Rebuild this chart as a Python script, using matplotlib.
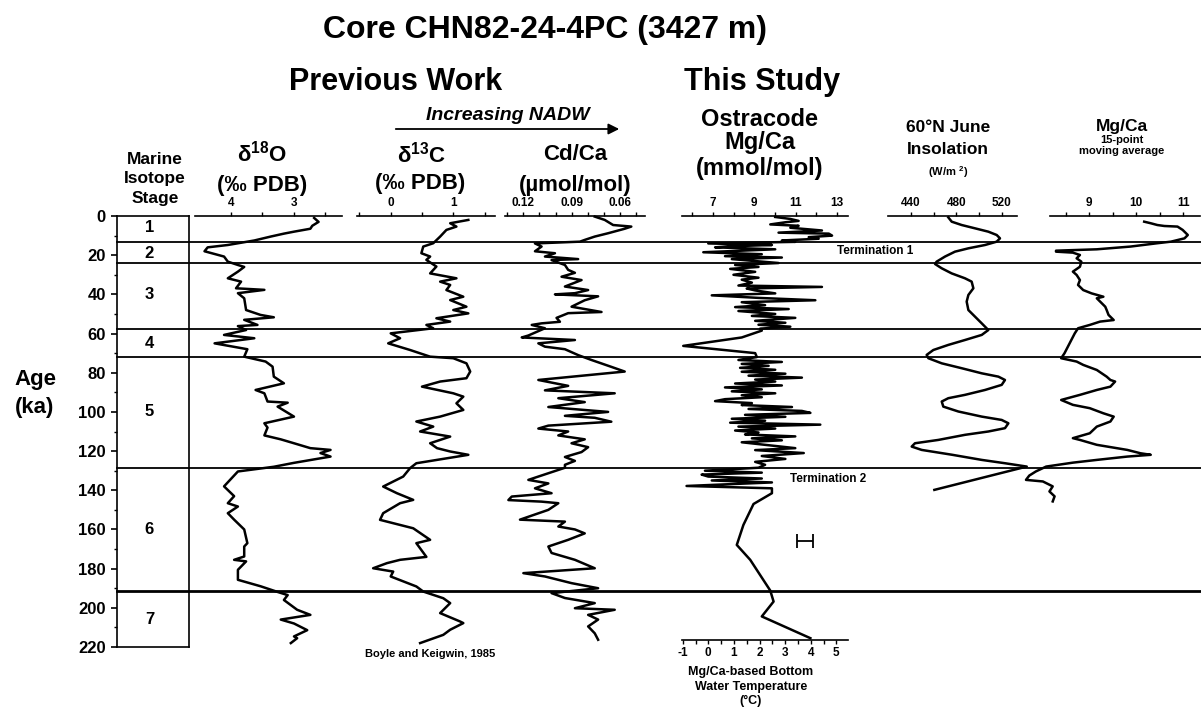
import matplotlib
matplotlib.use("Agg")
import matplotlib.pyplot as plt

plt.rcParams['font.family'] = ['Liberation Sans', 'DejaVu Sans']
plt.rcParams['font.weight'] = 'bold'
plt.rcParams['mathtext.fontset'] = 'custom'
plt.rcParams['mathtext.rm'] = 'Liberation Sans:bold'
plt.rcParams['axes.linewidth'] = 1.2

# ---- data (ages in ka) ----
stage_bounds = [13.1, 24.1, 57.7, 71.8, 128.4, 191.2]
stage_names = ['1', '2', '3', '4', '5', '6', '7']
stage_mid = [6, 19, 40, 65, 100, 160, 206]

d18o_age = [1, 3, 5, 6.5, 8, 9, 10.5, 12.5, 14.8, 16,
            18, 20.7, 23.3, 25, 26, 28.4, 31.8, 33.5, 36.9, 37.7,
            39.4, 42, 48, 50.5, 51.7, 53, 55.6, 56.2, 58.2, 60.7,
            62.4, 65, 68, 71.8, 74.3, 76.9, 82, 85.4, 88.8, 90.5,
            94.7, 95.3, 97.3, 102.4, 105.8, 108, 112, 114, 116, 118.5,
            119.4, 121, 122.8, 126, 128, 130.4, 138, 143, 146.6, 148.3,
            151.7, 155, 160, 167, 168.7, 173.8, 175.5, 176.3, 180.6, 185.7,
            189, 191.9, 193.5, 196, 201, 203.6, 206, 208, 211.4, 214.6,
            215.5, 218]
d18o_val = [2.68, 2.61, 2.71, 2.74, 3.0, 3.16, 3.37, 3.63, 4.05, 4.37,
            4.42, 4.11, 4.05, 3.89, 3.79, 3.89, 4.05, 3.84, 3.92, 3.47,
            3.89, 3.79, 3.76, 3.53, 3.32, 3.79, 3.58, 3.89, 3.76, 4.11,
            3.63, 4.26, 3.74, 3.79, 3.45, 3.34, 3.32, 3.16, 3.61, 3.47,
            3.42, 3.1, 3.26, 3.0, 3.47, 3.42, 3.47, 3.21, 3.0, 2.74,
            2.42, 2.58, 2.42, 3.0, 3.32, 3.89, 4.11, 3.95, 4.05, 3.89,
            4.05, 3.95, 3.79, 3.74, 3.79, 3.79, 3.95, 3.76, 3.89, 3.89,
            3.53, 3.26, 3.1, 3.16, 2.95, 2.74, 3.21, 3.0, 2.79, 3.0,
            2.95, 3.05]

d13c_age = [2.0, 3.7, 5.4, 7.1, 10.5, 13.9, 15.6, 19, 20.7, 22.4,
            25.8, 29.3, 31.8, 33.5, 35.2, 37.8, 41.2, 42.9, 46.3, 48,
            49.7, 52.2, 53.9, 55.6, 57.3, 59.9, 62.4, 65, 68.4, 71.8,
            72.6, 75.2, 79.4, 82.8, 84.5, 87.1, 90.5, 92.2, 95.6, 99,
            102.4, 104.9, 107.5, 110, 112.6, 116, 118.5, 120.2, 121.9, 126.2,
            128.7, 133, 138.1, 141.5, 144.9, 146.6, 151.7, 155.1, 159.4, 165.3,
            167, 174, 175.5, 177.2, 179.8, 181.5, 184, 189.1, 191.7, 195.1,
            197.6, 202.7, 207, 207.8, 211.2, 213.8, 218]
d13c_val = [1.24, 0.95, 1.05, 0.89, 0.79, 0.68, 0.52, 0.49, 0.63, 0.57,
            0.73, 0.63, 1.05, 0.79, 0.95, 0.89, 1.16, 0.95, 1.21, 1.0,
            1.24, 0.73, 0.95, 0.57, 0.68, 0.0, 0.15, -0.04, 0.31, 0.63,
            1.0, 1.21, 1.27, 1.21, 0.79, 0.5, 1.0, 1.16, 1.05, 1.16,
            0.79, 0.41, 0.68, 0.47, 0.95, 0.63, 0.74, 0.95, 1.24, 0.41,
            0.31, 0.2, -0.12, 0.1, 0.36, 0.15, -0.12, -0.17, 0.36, 0.63,
            0.41, 0.57, 0.15, -0.06, -0.28, 0.04, 0.0, 0.41, 0.52, 0.84,
            0.95, 0.79, 1.11, 1.16, 0.95, 0.84, 0.47]

cdca_age = [0.3, 2, 4.6, 5.4, 6.5, 8.8, 10.5, 12.2, 13.1, 14,
            15.6, 18, 19, 20.7, 22, 22.5, 25, 27.5, 29, 31,
            32.7, 36, 37.8, 39.4, 40, 41, 43, 46.3, 49, 49.6,
            52, 54, 54.8, 55.6, 57.3, 61, 62, 63.3, 65, 66.7,
            68, 71, 73.5, 77, 79.4, 83.7, 86.7, 89, 90.5, 93,
            95, 97.5, 100, 102, 103, 105, 107, 108.5, 110, 112,
            114, 116, 118, 120.5, 123, 125, 127, 128.5, 133, 134.7,
            136.5, 139, 141.5, 143.2, 145, 145.8, 146.6, 150, 155, 156,
            158.5, 160, 162, 165.3, 168.7, 172, 175.5, 179.8, 182.3, 184,
            187.4, 190, 192.5, 195, 197.6, 200.2, 201, 203.6, 206, 209.5,
            213, 216.3]
cdca_val = [0.0757, 0.0695, 0.0643, 0.0530, 0.0571, 0.0674, 0.0757, 0.0819, 0.0849, 0.1128,
            0.1087, 0.1128, 0.1004, 0.1066, 0.0860, 0.1025, 0.0942, 0.0922, 0.0880, 0.0963,
            0.0839, 0.0942, 0.0798, 0.0880, 0.1004, 0.0736, 0.0819, 0.0901, 0.0715, 0.0922,
            0.0994, 0.0973, 0.1087, 0.1148, 0.1066, 0.1169, 0.1210, 0.0880, 0.1107, 0.1066,
            0.0942, 0.0860, 0.0777, 0.0654, 0.0571, 0.1107, 0.0922, 0.1066, 0.0633, 0.0983,
            0.0819, 0.1045, 0.0674, 0.0942, 0.0757, 0.0654, 0.1045, 0.1107, 0.0922, 0.0983,
            0.0819, 0.0901, 0.0798, 0.0839, 0.0942, 0.0880, 0.0942, 0.0942, 0.1107, 0.1169,
            0.1045, 0.1128, 0.1025, 0.1272, 0.1293, 0.1087, 0.0983, 0.1045, 0.1221, 0.0942,
            0.0983, 0.0880, 0.0819, 0.0922, 0.1045, 0.1025, 0.0880, 0.0757, 0.1200, 0.1066,
            0.0901, 0.0736, 0.1025, 0.0942, 0.0757, 0.0880, 0.0633, 0.0798, 0.0736, 0.0798,
            0.0757, 0.0736]

ostr_age = [0.5, 1.5, 2.5, 3.2, 4.3, 5.0, 6.0, 7.4, 8.5, 9.0,
            10.0, 10.8, 11.6, 12.5, 13.2, 14.0, 14.8, 15.5, 16.0, 17.0,
            18.5, 19.5, 20.5, 21.2, 22.0, 23.0, 24.0, 25.0, 26.0, 27.0,
            28.5, 30.0, 31.5, 32.5, 34.0, 35.5, 36.2, 37.0, 38.0, 39.5,
            40.5, 41.8, 43.0, 44.0, 45.5, 46.5, 47.5, 48.5, 50.0, 51.0,
            52.0, 53.5, 54.5, 55.5, 56.5, 57.5, 58.5, 62.0, 66.3, 70.0,
            72.0, 73.5, 74.5, 75.5, 76.5, 77.5, 78.5, 79.5, 80.5, 81.5,
            82.5, 83.5, 84.5, 85.5, 86.5, 87.5, 88.5, 89.5, 90.5, 91.5,
            92.5, 93.5, 94.5, 95.5, 96.5, 97.5, 98.5, 99.5, 100.5, 101.5,
            102.5, 103.5, 104.5, 105.5, 106.5, 107.5, 108.5, 109.5, 110.5, 111.5,
            112.5, 113.5, 114.5, 115.5, 117.0, 118.5, 119.5, 121.0, 122.5, 124.0,
            125.5, 127.0, 128.5, 130.0, 131.0, 132.0, 133.0, 134.0, 135.0, 136.0,
            137.8, 139.0, 141.5, 147.0, 157.7, 167.9, 175.5, 191.2, 196.8, 204.4,
            215.5]
ostr_val = [10.01, 10.74, 11.14, 10.50, 9.77, 11.14, 10.74, 12.27, 10.17, 12.60,
            12.76, 11.63, 12.11, 10.33, 10.98, 6.77, 9.85, 7.74, 7.10, 10.01,
            6.53, 9.36, 7.58, 10.33, 7.91, 9.04, 10.17, 8.07, 9.20, 7.83,
            9.04, 7.99, 9.20, 8.39, 8.88, 8.23, 12.27, 8.63, 9.04, 10.01,
            6.94, 9.20, 11.95, 8.39, 9.52, 8.07, 10.66, 8.23, 10.01, 8.88,
            10.98, 9.04, 10.50, 9.20, 10.74, 9.28, 9.36, 8.39, 5.56, 9.04,
            9.12, 8.23, 10.33, 8.39, 9.69, 8.31, 10.01, 8.39, 10.50, 8.72,
            11.30, 9.04, 10.01, 8.07, 10.33, 7.58, 9.36, 7.91, 10.01, 8.39,
            9.36, 7.58, 7.10, 8.88, 8.39, 10.82, 8.72, 11.30, 11.71, 8.55,
            10.50, 7.91, 9.52, 7.83, 12.19, 8.23, 10.01, 8.07, 9.20, 8.55,
            10.98, 8.88, 10.33, 8.39, 9.69, 10.98, 9.04, 11.39, 9.36, 10.50,
            9.04, 9.52, 9.20, 6.61, 9.36, 6.45, 6.77, 9.36, 6.94, 9.85,
            5.72, 9.85, 9.85, 8.96, 8.47, 8.15, 8.80, 9.77, 9.93, 9.36,
            11.71]

ins_age = [0.7, 2.9, 4.6, 6.3, 8.0, 9.7, 11.4, 13.1, 14.8, 16.5,
           18.2, 20.7, 23.3, 24.5, 26.7, 29.3, 31.8, 33.5, 36.9, 40.3,
           43.7, 48.0, 51.4, 54.8, 58.2, 60.7, 63.3, 65.8, 68.4, 70.9,
           72.6, 75.2, 77.7, 80.3, 82.0, 83.7, 86.2, 88.8, 91.3, 93.0,
           94.7, 97.3, 99.8, 102.4, 104.1, 105.8, 108.3, 110.0, 111.7, 114.3,
           116.0, 117.7, 119.4, 121.9, 124.5, 126.2, 127.9, 139.8]
ins_val = [472.9, 475.9, 484.7, 496.5, 508.2, 515.6, 518.5, 515.6, 505.3, 490.6,
           478.8, 470.0, 462.6, 461.2, 467.1, 475.9, 487.6, 493.5, 495.0, 490.6,
           489.1, 490.6, 496.5, 502.4, 508.2, 502.4, 487.6, 472.9, 459.7, 453.8,
           455.3, 467.1, 484.7, 502.4, 517.1, 522.9, 520.0, 505.3, 487.6, 472.9,
           467.1, 468.5, 481.8, 502.4, 520.0, 525.9, 522.9, 508.2, 487.6, 464.1,
           443.5, 440.6, 449.4, 476.5, 502.4, 522.9, 542.1, 460.6]

mgavg_age = [2.9, 3.7, 4.6, 5.1, 5.4, 7.1, 9.7, 11.4, 13.1, 13.9,
             15.6, 17.0, 17.7, 18.2, 18.7, 19.9, 21.6, 23.3, 25.9, 28.4,
             30.1, 32.7, 35.2, 37.8, 39.5, 41.2, 42.0, 46.3, 48.0, 50.5,
             53.1, 53.9, 55.6, 57.3, 59.9, 65.0, 70.1, 72.6, 74.3, 76.0,
             78.6, 82.0, 83.7, 84.5, 87.1, 88.8, 91.3, 93.9, 96.4, 98.1,
             100.7, 102.4, 104.9, 107.5, 110.9, 113.4, 114.3, 116.8, 119.4, 121.1,
             121.9, 122.8, 124.5, 125.9, 127.9, 130.4, 132.5, 134.7, 135.5, 138.0,
             140.6, 143.1, 145.7]
mgavg_val = [10.17, 10.31, 10.45, 10.60, 10.88, 10.99, 11.10, 11.03, 10.74, 10.45,
             9.88, 9.16, 8.29, 8.29, 8.65, 8.80, 8.73, 8.83, 8.80, 8.65,
             8.73, 8.80, 8.76, 8.87, 9.05, 9.30, 9.16, 9.34, 9.37, 9.41,
             9.52, 9.23, 9.01, 8.76, 8.69, 8.58, 8.47, 8.40, 8.73, 8.87,
             9.16, 9.37, 9.45, 9.55, 9.45, 9.16, 8.80, 8.40, 8.65, 9.01,
             9.30, 9.52, 9.45, 9.16, 9.01, 8.65, 8.80, 9.16, 9.81, 10.09,
             10.31, 9.81, 9.16, 8.65, 8.08, 7.86, 7.72, 7.65, 8.01, 8.22,
             8.15, 8.26, 8.22]

temp_ticks = [-1, 0, 1, 2, 3, 4, 5]

# ---- layout (pixels) ----
W, H = 1201, 707
TOP, BOT = 216, 647

fig = plt.figure(figsize=(W / 100, H / 100), dpi=100)


def strip(x0, x1):
    ax = fig.add_axes([x0 / W, 1 - BOT / H, (x1 - x0) / W, (BOT - TOP) / H])
    ax.set_ylim(220, 0)
    ax.patch.set_alpha(0)
    return ax


def label(x, y, s, size, ha='center', **kw):
    fig.text(x / W, 1 - y / H, s, fontsize=size, ha=ha, va='center', **kw)


def curve_panel(x0, x1, lim, major, labels, minor, ages, vals):
    ax = strip(x0, x1)
    ax.set_xlim(*lim)
    for s in ['left', 'right', 'bottom']:
        ax.spines[s].set_visible(False)
    ax.xaxis.tick_top()
    ax.set_xticks(major, labels=labels)
    ax.set_xticks(minor, minor=True)
    ax.set_yticks([])
    ax.tick_params(axis='x', which='both', direction='out', length=3,
                   width=1, pad=2, labelsize=8.5)
    ax.plot(vals, ages, color='black', lw=1.8, clip_on=False)
    return ax


# stage boundary lines across the whole figure
base = strip(117, 1201)
base.axis('off')
for b in stage_bounds:
    base.axhline(b, color='black', lw=2.0 if b > 190 else 1.3, clip_on=False)

# marine isotope stage box with age axis
box = strip(117, 189)
box.set_xlim(0, 1)
box.set_xticks([])
box.set_yticks(range(0, 221, 20))
box.set_yticks(range(10, 220, 20), minor=True)
box.tick_params(axis='y', which='major', labelsize=12, length=4, width=1.2, pad=4)
box.tick_params(axis='y', which='minor', length=2, width=1)
for name, mid in zip(stage_names, stage_mid):
    box.text(0.45, mid, name, ha='center', va='center', fontsize=12)

curve_panel(195, 342, (4.571, 2.238), [4, 3], ['4', '3'], [3.5, 2.5],
            d18o_age, d18o_val)
curve_panel(357, 495, (-0.538, 1.666), [0, 1], ['0', '1'], [-0.5, 0.5, 1.5],
            d13c_age, d13c_val)
curve_panel(505, 645, (0.1314, 0.0445), [0.12, 0.09, 0.06], ['0.12', '0.09', '0.06'],
            [0.13, 0.11, 0.10, 0.08, 0.07, 0.05], cdca_age, cdca_val)
ost = curve_panel(682, 848, (5.5, 13.53), [7, 9, 11, 13], ['7', '9', '11', '13'],
                  [6, 8, 10, 12], ostr_age, ostr_val)
curve_panel(888, 1017, (419.7, 533.5), [440, 480, 520], ['440', '480', '520'],
            [460, 500], ins_age, ins_val)
curve_panel(1050, 1200, (8.162, 11.36), [9, 10, 11], ['9', '10', '11'],
            [8.5, 9.5, 10.5], mgavg_age, mgavg_val)

# error bar on the ostracode record
ost.errorbar([11.45], [166], xerr=[0.4], color='black', lw=1.3, capsize=5,
             capthick=1.3, clip_on=False)


# Mg/Ca-based bottom water temperature scale
def mg2t(m):
    return (20.67 * (m - 7) + 4.7) / 25.6


def t2mg(t):
    return 7 + (25.6 * t - 4.7) / 20.67


sec = ost.secondary_xaxis(0.016, functions=(mg2t, t2mg))
sec.set_xticks(temp_ticks, labels=[str(t) for t in temp_ticks])
sec.set_xticks([-0.5, 0.5, 1.5, 2.5, 3.5, 4.5], minor=True)
sec.tick_params(axis='x', which='both', direction='out', length=3, width=1,
                pad=2, labelsize=8.5)
sec.spines['bottom'].set_linewidth(1.2)

# ---- texts ----
label(545, 30, 'Core CHN82-24-4PC (3427 m)', 23)
label(396, 82, 'Previous Work', 22)
label(762, 82, 'This Study', 22)
label(508, 115, 'Increasing NADW', 14, style='italic')
base.annotate('', xy=(622, H - 129), xytext=(393, H - 129), xycoords='figure pixels',
              textcoords='figure pixels',
              arrowprops=dict(arrowstyle='-|>', lw=1.3, color='black', mutation_scale=16))

label(155, 160, 'Marine', 12.5)
label(155, 179, 'Isotope', 12.5)
label(155, 198, 'Stage', 12.5)

label(262, 154, r'δ$^{18}$O', 16)
label(262, 185, '(‰ PDB)', 16)
label(422, 155, r'δ$^{13}$C', 16)
label(420, 184, '(‰ PDB)', 16)
label(575, 155, 'Cd/Ca', 16)
label(575, 185, '(µmol/mol)', 16)

label(760, 120, 'Ostracode', 17)
label(760, 143, 'Mg/Ca', 17)
label(760, 168, '(mmol/mol)', 17)

label(948, 127, '60°N June', 12.5)
label(948, 150, 'Insolation', 12.5)
label(948, 172, r'(W/m $^{2}$)', 8)

label(1122, 127, 'Mg/Ca', 12.5)
label(1122, 140, '15-point', 8)
label(1122, 151, 'moving average', 8)

label(35, 380, 'Age', 16)
label(35, 407, '(ka)', 16)

label(837, 251, 'Termination 1', 8.5, ha='left')
label(790, 479, 'Termination 2', 8.5, ha='left')
label(365, 654, 'Boyle and Keigwin, 1985', 8, ha='left')

label(751, 672, 'Mg/Ca-based Bottom', 9)
label(751, 687, 'Water Temperature', 9)
label(751, 701, '(°C)', 9)

fig.savefig('out.png', dpi=100)
